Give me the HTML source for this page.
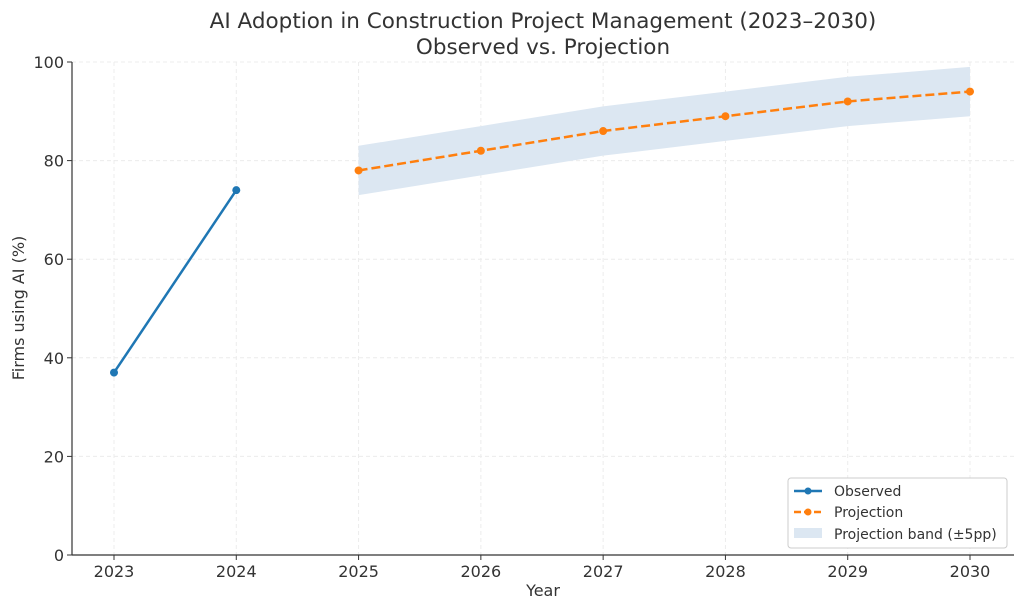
<!DOCTYPE html>
<html><head><meta charset="utf-8">
<style>
body{margin:0;background:#fff;}
svg text{font-family:"DejaVu Sans","Liberation Sans",sans-serif;fill:#333;}
</style></head>
<body>
<svg id="chart" width="1024" height="610" xmlns="http://www.w3.org/2000/svg">
<text x="543" y="28" text-anchor="middle" font-size="21.5">AI Adoption in Construction Project Management (2023–2030)</text>
<text x="543" y="54" text-anchor="middle" font-size="21.5">Observed vs. Projection</text>
<g id="grid"></g>
<g id="band"></g>
<g id="series"></g>
<g id="axes"></g>
<text x="543" y="596" text-anchor="middle" font-size="16">Year</text>
<text transform="translate(24,308) rotate(-90)" text-anchor="middle" font-size="16">Firms using AI (%)</text>
<g>
<rect x="788" y="478" width="219" height="70" rx="3" fill="#fff" stroke="#ccc"/>
<g>
<line x1="794" y1="491" x2="822" y2="491" stroke="#1f77b4" stroke-width="2.5"/><circle cx="808" cy="491" r="3.5" fill="#1f77b4"/>
<text x="834" y="496" font-size="14">Observed</text></g>
<g>
<line x1="794" y1="512" x2="822" y2="512" stroke="#ff7f0e" stroke-width="2.5" stroke-dasharray="7,3"/><circle cx="808" cy="512" r="3.5" fill="#ff7f0e"/>
<text x="834" y="517" font-size="14">Projection</text></g>
<g>
<rect x="794" y="528" width="28" height="10" fill="#dce7f2"/>
<text x="834" y="539" font-size="14">Projection band (±5pp)</text></g>
</g>
</svg>
<script>
const obsYears=[2023,2024];
const obsValues=[37,74];
const projYears=[2025,2026,2027,2028,2029,2030];
const projValues=[78,82,86,89,92,94];
const bandHalf=5;
const xTicks=[2023,2024,2025,2026,2027,2028,2029,2030];
const yTicks=[0,20,40,60,80,100];

const NS="http://www.w3.org/2000/svg";
const X0=72,X1=1014,Y0=555,Y1=62;
const xs=y=>114+(y-2023)*(970-114)/7;
const ys=v=>Y0-v*(Y0-Y1)/100;
function mk(tag,attrs,parent){const e=document.createElementNS(NS,tag);for(const k in attrs)e.setAttribute(k,attrs[k]);parent.appendChild(e);return e;}
const grid=document.getElementById('grid'),axes=document.getElementById('axes'),band=document.getElementById('band'),series=document.getElementById('series');
xTicks.forEach(t=>{
 const l=mk('line',{x1:xs(t),x2:xs(t),y1:Y1,y2:Y0,stroke:'#ececec','stroke-dasharray':'4,3'},grid);
 
 
 const tk=mk('line',{x1:xs(t),x2:xs(t),y1:Y0,y2:Y0+5,stroke:'#333'},axes);
 
 
 const tx=mk('text',{x:xs(t),y:Y0+22,'text-anchor':'middle','font-size':16},axes);tx.textContent=t;
 
 
});
yTicks.forEach(t=>{
 const l=mk('line',{x1:X0,x2:X1,y1:ys(t),y2:ys(t),stroke:'#ececec','stroke-dasharray':'4,3'},grid);
 
 
 const tk=mk('line',{x1:X0-5,x2:X0,y1:ys(t),y2:ys(t),stroke:'#333'},axes);
 
 
 const tx=mk('text',{x:X0-8,y:ys(t)+6,'text-anchor':'end','font-size':16},axes);tx.textContent=t;
 
 
});
const la=mk('line',{x1:X0,x2:X0,y1:Y1,y2:Y0,stroke:'#333','stroke-width':1.2},axes);


const ba=mk('line',{x1:X0,x2:X1,y1:Y0,y2:Y0,stroke:'#333','stroke-width':1.2},axes);


let up=projYears.map((y,i)=>xs(y)+','+ys(projValues[i]+bandHalf));
let dn=projYears.map((y,i)=>xs(y)+','+ys(projValues[i]-bandHalf)).reverse();
const bp=mk('polygon',{points:up.concat(dn).join(' '),fill:'#dce7f2'},band);


const ol=mk('polyline',{points:obsYears.map((y,i)=>xs(y)+','+ys(obsValues[i])).join(' '),fill:'none',stroke:'#1f77b4','stroke-width':2.5},series);


obsYears.forEach((y,i)=>{const c=mk('circle',{cx:xs(y),cy:ys(obsValues[i]),r:4,fill:'#1f77b4'},series);
 
 });
const pl=mk('polyline',{points:projYears.map((y,i)=>xs(y)+','+ys(projValues[i])).join(' '),fill:'none',stroke:'#ff7f0e','stroke-width':2.5,'stroke-dasharray':'9,4'},series);


projYears.forEach((y,i)=>{const c=mk('circle',{cx:xs(y),cy:ys(projValues[i]),r:4,fill:'#ff7f0e'},series);
 
 });
</script>
</body></html>
